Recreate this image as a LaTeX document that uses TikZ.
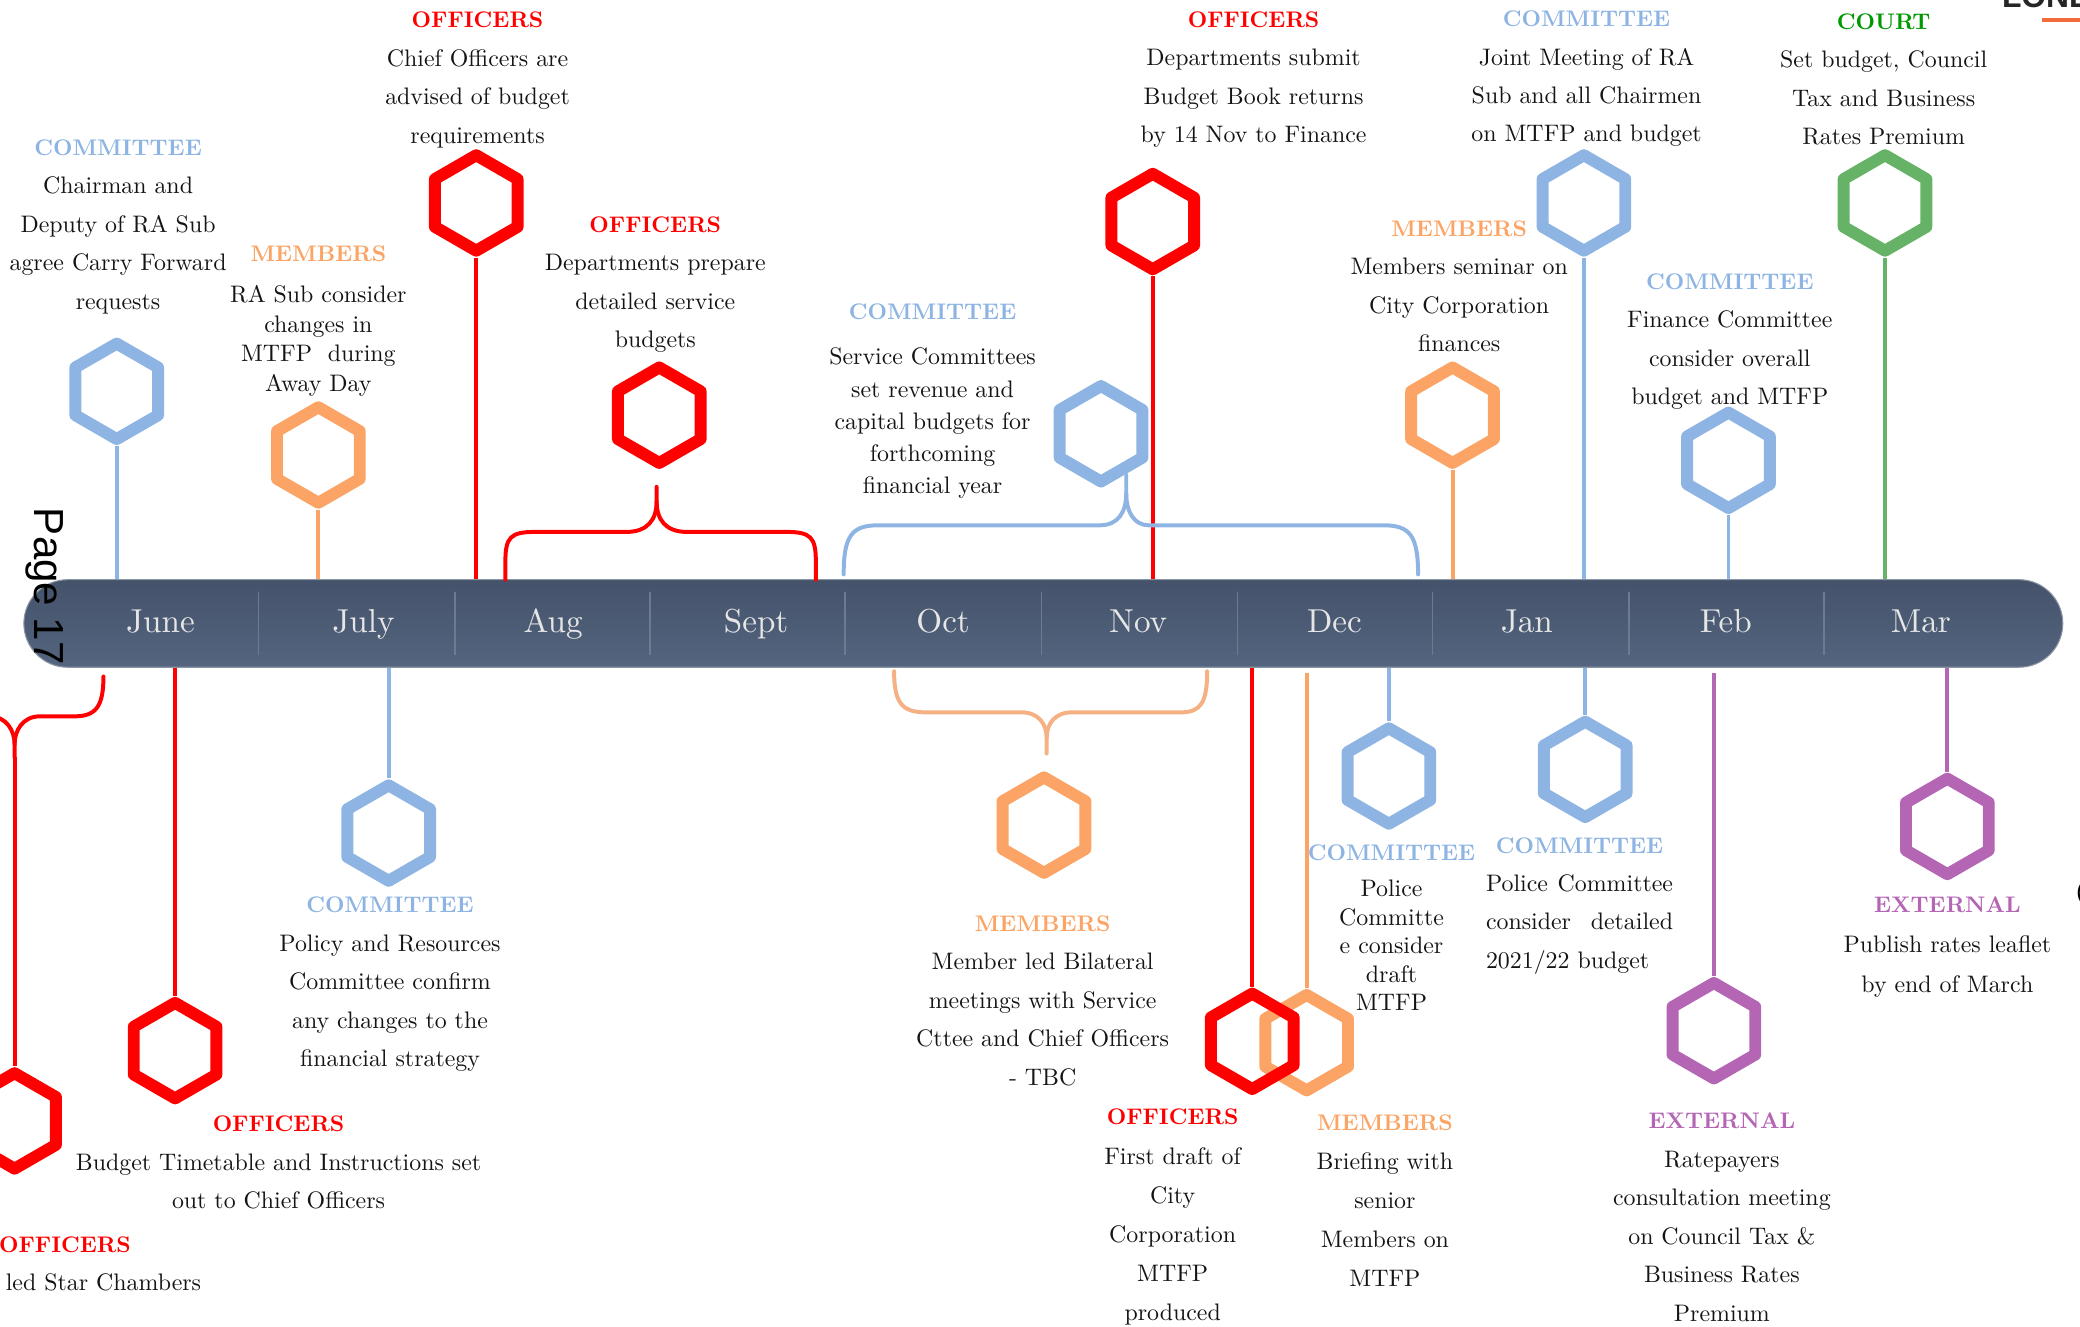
\documentclass[tikz,border=0pt]{standalone}
\usepackage{fontspec}
\setmainfont{lmroman10-regular.otf}[BoldFont=lmroman10-bold.otf, ItalicFont=lmroman10-italic.otf]
\newfontfamily\arialfont{Liberation Sans}
\usetikzlibrary{shapes.geometric}
\definecolor{cblue}{HTML}{8DB4E2}
\definecolor{corange}{HTML}{FBA465}
\definecolor{cpeach}{HTML}{F5B183}
\definecolor{cred}{HTML}{FF0000}
\definecolor{cgreen}{HTML}{66B266}
\definecolor{cgreenhd}{HTML}{009900}
\definecolor{cpurple}{HTML}{B466B4}
\definecolor{bartop}{HTML}{44526A}
\definecolor{barbot}{HTML}{55657F}
\definecolor{baredge}{HTML}{8A94A4}
\definecolor{sepline}{HTML}{6E7B8F}
\definecolor{monthgray}{HTML}{E6E6E6}
\definecolor{logoorange}{HTML}{F26B3A}
\definecolor{bodytext}{HTML}{141414}
\newcommand\myhead[2]{{\color{#1}\fontsize{17}{22}\selectfont\bfseries #2}}
\begin{document}
\begin{tikzpicture}[x=1pt,y=-1pt,
  hexn/.style={regular polygon, regular polygon sides=6, shape border rotate=30,
    minimum size=72pt, inner sep=0pt, draw=#1, line width=9pt, line join=round},
  conn/.style={line width=3pt, draw=#1},
  bracel/.style={line width=3pt, draw=#1, line cap=round},
  txt/.style={align=center, inner sep=0pt, anchor=north, text=bodytext,
    font=\fontsize{18}{29}\selectfont},
  month/.style={anchor=base, inner sep=0pt, text=monthgray,
    font=\fontsize{25}{25}\selectfont},
  barbox/.style={rectangle, minimum width=1537pt, minimum height=66pt,
    rounded corners=33pt, top color=bartop, bottom color=barbot,
    draw=baredge, line width=0.8pt, inner sep=0pt},
  sepl/.style={draw=sepline, line width=1pt}
]
\useasboundingbox (0,0) rectangle (1568,1000);
\clip (0,0) rectangle (1568,1000);

% ---------------- timeline bar ----------------
\node[barbox] (bar) at (786.5,470) {};
\foreach \sx in {195,343,490,637,785,933,1080,1228,1375}
  \draw[sepl] (\sx,446) -- (\sx,494);
\node[month] (m1) at (121,477) {June};
\node[month] (m2) at (274,477) {July};
\node[month] (m3) at (417,477) {Aug};
\node[month] (m4) at (570,477) {Sept};
\node[month] (m5) at (711,477) {Oct};
\node[month] (m6) at (858,477) {Nov};
\node[month] (m7) at (1006,477) {Dec};
\node[month] (m8) at (1151,477) {Jan};
\node[month] (m9) at (1301,477) {Feb};
\node[month] (m10) at (1448,477) {Mar};

\node[rotate=-90, inner sep=0pt, font=\arialfont\fontsize{31.7}{32}\selectfont] (pg) at (34,442) {Page 17};

% ---------------- hexagons ----------------
% above the bar
\node[hexn=cblue] (h1) at (88,295) {};
\node[hexn=corange] (h2) at (240,343) {};
\node[hexn=cred] (h3) at (359,153) {};
\node[hexn=cred] (h4) at (497,313) {};
\node[hexn=cblue] (h5) at (830,327) {};
\node[hexn=cred] (h6) at (869,167) {};
\node[hexn=corange] (h7) at (1095,313) {};
\node[hexn=cblue] (h8) at (1194,153) {};
\node[hexn=cblue] (h9) at (1303,347) {};
\node[hexn=cgreen] (h10) at (1421,153) {};
% below the bar
\node[hexn=cred] (h11) at (11,845) {};
\node[hexn=cred] (h12) at (132,792) {};
\node[hexn=cblue] (h13) at (293,628) {};
\node[hexn=corange] (h14) at (787,622) {};
\node[hexn=corange] (h16) at (985,786) {};
\node[hexn=cred] (h15) at (944,785) {};
\node[hexn=cblue] (h17) at (1047,585) {};
\node[hexn=cblue] (h18) at (1195,580) {};
\node[hexn=cpurple] (h19) at (1292,777) {};
\node[hexn=cpurple] (h20) at (1468,623) {};

% ---------------- straight connectors ----------------
\draw[conn=cblue] (h1.south) -- (h1.south |- bar.north);
\draw[conn=corange] (h2.south) -- (h2.south |- bar.north);
\draw[conn=cred] (h3.south) -- (h3.south |- bar.north);
\draw[conn=cred] (h6.south) -- (h6.south |- bar.north);
\draw[conn=corange] (h7.south) -- (h7.south |- bar.north);
\draw[conn=cblue] (h8.south) -- (h8.south |- bar.north);
\draw[conn=cblue] (h9.south) -- (h9.south |- bar.north);
\draw[conn=cgreen] (h10.south) -- (h10.south |- bar.north);
\draw[conn=cred] (h12.north |- bar.south) -- (h12.north);
\draw[conn=cblue] (h13.north |- bar.south) -- (h13.north);
\draw[conn=cred] (h15.north |- bar.south) -- (h15.north);
\draw[conn=corange] ([yshift=-4pt]h16.north |- bar.south) -- (h16.north);
\draw[conn=cblue] (h17.north |- bar.south) -- (h17.north);
\draw[conn=cblue] (h18.north |- bar.south) -- (h18.north);
\draw[conn=cpurple] ([yshift=-4pt]h19.north |- bar.south) -- (h19.north);
\draw[conn=cpurple] (h20.north |- bar.south) -- (h20.north);

% ---------------- braces ----------------
% red brace (Aug-Sept) to h4
\coordinate (bDl) at (381,437);
\coordinate (bDr) at (615,437);
\coordinate (bDt) at (495,367);
\draw[bracel=cred] (bDl) -- (381,423) .. controls (381,405) and (385,401) .. (403,401)
  -- (472,401) .. controls (488,401) and (495,392) .. (495,378) -- (bDt);
\draw[bracel=cred] (495,378) .. controls (495,392) and (502,401) .. (518,401)
  -- (593,401) .. controls (611,401) and (615,405) .. (615,423) -- (bDr);
% blue brace (Oct-Dec) to h5
\coordinate (bEl) at (636,433);
\coordinate (bEr) at (1069,433);
\coordinate (bEt) at (849,358);
\draw[bracel=cblue] (bEl) .. controls (636,404) and (642,396) .. (662,396)
  -- (829,396) .. controls (843,396) and (849,386) .. (849,372) -- (bEt);
\draw[bracel=cblue] (849,372) .. controls (849,386) and (855,396) .. (866,396)
  -- (1043,396) .. controls (1063,396) and (1069,404) .. (bEr);
% orange brace (Oct-Nov) below the bar to h14
\coordinate (bNl) at (674,506);
\coordinate (bNr) at (910,506);
\coordinate (bNt) at (789,568);
\draw[bracel=cpeach] (bNl) .. controls (674,530) and (680,537) .. (698,537)
  -- (770,537) .. controls (783,537) and (789,546) .. (789,556) -- (bNt);
\draw[bracel=cpeach] (789,556) .. controls (789,546) and (795,537) .. (808,537)
  -- (890,537) .. controls (905,537) and (910,530) .. (bNr);
% red brace (left, below the bar) to h11
\coordinate (bMr) at (78,510);
\coordinate (bMt) at (11,571);
\draw[bracel=cred] (bMr) .. controls (78,533) and (72,540) .. (56,540)
  -- (30,540) .. controls (17,540) and (11,551) .. (11,561) -- (bMt);
\draw[bracel=cred] (11,561) .. controls (11,551) and (5,540) .. (-8,540)
  -- (-34,540) .. controls (-50,540) and (-56,533) .. (-56,510);
\draw[conn=cred] (bMt) -- (h11.north);

% ---------------- texts above ----------------
\node[txt] (tA) at (89,105) {\myhead{cblue}{COMMITTEE}\\Chairman and\\Deputy of RA Sub\\agree Carry Forward\\requests};
\node[txt, font=\fontsize{18}{22.3}\selectfont] (tB) at (240,185) {\myhead{corange}{MEMBERS}\\[8.7pt]RA Sub consider\\changes in\\MTFP\ \ during\\Away Day};
\node[txt] (tC) at (360,9) {\myhead{cred}{OFFICERS}\\Chief Officers are\\advised of budget\\requirements};
\node[txt] (tD) at (494,163) {\myhead{cred}{OFFICERS}\\Departments prepare\\detailed service\\budgets};
\node[txt, font=\fontsize{18}{24.3}\selectfont] (tE) at (703,229) {\myhead{cblue}{COMMITTEE}\\[9.7pt]Service Committees\\set revenue and\\capital budgets for\\forthcoming\\financial year};
\node[txt, font=\fontsize{18}{28.7}\selectfont] (tF) at (945,9) {\myhead{cred}{OFFICERS}\\Departments submit\\Budget Book returns\\by 14 Nov to Finance};
\node[txt] (tG) at (1196,8) {\myhead{cblue}{COMMITTEE}\\Joint Meeting of RA\\Sub and all Chairmen\\on MTFP and budget};
\node[txt] (tH) at (1420,10) {\myhead{cgreenhd}{COURT}\\Set budget, Council\\Tax and Business\\Rates Premium};
\node[txt] (tI) at (1100,166) {\myhead{corange}{MEMBERS}\\Members seminar on\\City Corporation\\finances};
\node[txt] (tJ) at (1304,206) {\myhead{cblue}{COMMITTEE}\\Finance Committee\\consider overall\\budget and MTFP};

% ---------------- texts below ----------------
\node[txt] (tK) at (294,676) {\myhead{cblue}{COMMITTEE}\\Policy and Resources\\Committee confirm\\any changes to the\\financial strategy};
\node[txt] (tL) at (210,841) {\myhead{cred}{OFFICERS}\\Budget Timetable and Instructions set\\out to Chief Officers};
\node[txt] (tM) at (49,932) {\myhead{cred}{OFFICERS}\\Officer led Star Chambers};
\node[txt] (tN) at (786,690) {\myhead{corange}{MEMBERS}\\Member led Bilateral\\meetings with Service\\Cttee and Chief Officers\\- TBC};
\node[txt, font=\fontsize{18}{29.5}\selectfont] (tO) at (884,836) {\myhead{cred}{OFFICERS}\\First draft of\\City\\Corporation\\MTFP\\produced};
\node[txt, font=\fontsize{18}{29.5}\selectfont] (tP) at (1044,840) {\myhead{corange}{MEMBERS}\\Briefing with\\senior\\Members on\\MTFP};
\node[txt, font=\fontsize{18}{21.5}\selectfont] (tQ) at (1049,637) {\myhead{cblue}{COMMITTEE}\\[5.5pt]Police\\Committe\\e consider\\draft\\MTFP};
\node[txt, align=left, anchor=north west] (tR) at (1120,631) {\makebox[141pt]{\myhead{cblue}{COMMITTEE}}\\\makebox[141pt][s]{Police Committee}\\\makebox[141pt][s]{consider detailed}\\2021/22 budget};
\node[txt] (tS) at (1298,839) {\myhead{cpurple}{EXTERNAL}\\Ratepayers\\consultation meeting\\on Council Tax \&\\Business Rates\\Premium};
\node[txt, font=\fontsize{18}{30}\selectfont] (tT) at (1468,676) {\myhead{cpurple}{EXTERNAL}\\Publish rates leaflet\\by end of March};

% ---------------- cropped edge fragments ----------------
\node[anchor=base west, inner sep=0pt, text=black!85, font=\arialfont\bfseries\fontsize{24}{24}\selectfont] (logo) at (1509,6) {LONDON};
\coordinate (lgA) at (1539,15);
\coordinate (lgB) at (1572,15);
\draw[line width=2.5pt, draw=logoorange] (lgA) -- (lgB);
\node[anchor=base west, inner sep=0pt, font=\arialfont\fontsize{18}{18}\selectfont] (paren) at (1565,678) {(};
\end{tikzpicture}
\end{document}
